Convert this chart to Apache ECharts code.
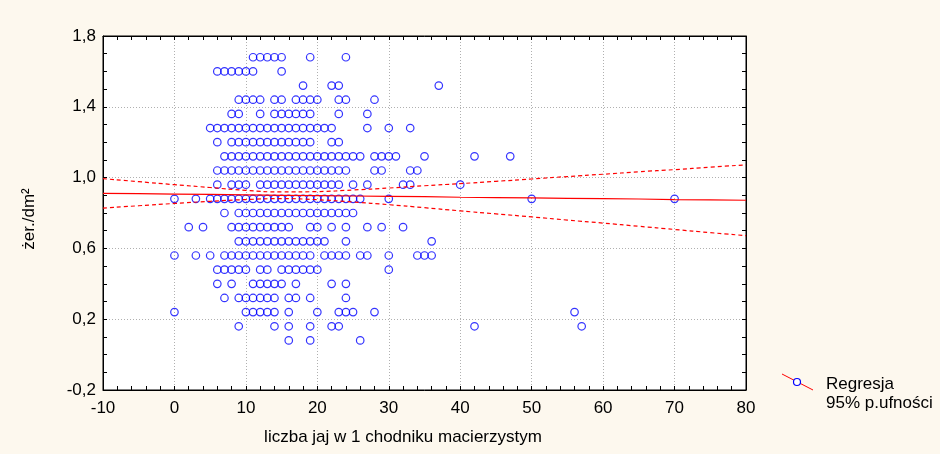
<!DOCTYPE html>
<html>
<head>
<meta charset="utf-8">
<script src="https://cdn.jsdelivr.net/npm/echarts@6/dist/echarts.min.js"></script>
<style>
html,body{margin:0;padding:0;background:#fdf8ee;}
#c{width:940px;height:454px;}
</style>
</head>
<body>
<div id="c"></div>
<script>
// ---- data (x = liczba jaj, grouped by y level żer./dm²) ----
const r168 = [11,12,13,14,15,19,24];
const r160 = [6,7,8,9,10,11,15];
const r152 = [18,22,23,37];
const r144 = [9,10,11,12,14,15,17,18,19,20,23,24,28];
const r136 = [8,9,12,14,15,16,17,18,19,23,27];
const r128 = [5,6,7,8,9,10,11,12,13,14,15,16,17,18,19,20,21,22,27,30,33];
const r120 = [6,8,9,10,11,12,13,14,15,16,17,18,19,22,23];
const r112 = [7,8,9,10,11,12,13,14,15,16,17,18,19,20,21,22,23,24,25,26,28,29,30,31,35,42,47];
const r104 = [6,7,8,9,10,11,12,13,14,15,16,17,18,19,20,21,22,23,24,28,29,33,34];
const r096 = [6,8,9,10,12,13,14,15,16,17,18,19,20,21,22,23,25,27,32,33,40];
const r088 = [0,3,5,6,7,8,9,10,11,12,13,14,15,16,17,18,19,20,21,22,23,24,25,26,30,50,70];
const r080 = [7,9,10,11,12,13,14,15,16,17,18,19,20,21,22,23,24,25];
const r072 = [2,4,8,9,10,11,12,13,14,15,16,19,20,22,24,27,29,32];
const r064 = [9,10,11,12,13,14,15,16,17,18,19,20,21,24,36];
const r056 = [0,3,5,7,8,9,10,11,12,13,14,15,16,17,18,19,21,22,23,24,26,27,30,34,35,36];
const r048 = [6,7,8,9,10,12,13,15,16,17,18,19,20,30];
const r040 = [6,8,11,12,13,14,15,17,22,24];
const r032 = [7,9,10,11,12,13,14,16,17,19,24];
const r024 = [0,10,11,12,13,14,16,20,23,24,25,28,56];
const r016 = [9,14,16,19,22,23,42,57];
const r008 = [16,19,26];
const yLevels = [1.68,1.60,1.52,1.44,1.36,1.28,1.20,1.12,1.04,0.96,0.88,0.80,0.72,0.64,0.56,0.48,0.40,0.32,0.24,0.16,0.08];
const rowXs = [r168,r160,r152,r144,r136,r128,r120,r112,r104,r096,r088,r080,r072,r064,r056,r048,r040,r032,r024,r016,r008];

// regression line and 95% confidence band
const lineX  = [-10,-5,0,5,10,15,20,25,30,35,40,45,50,55,60,65,70,75,80];
const regY   = [0.911,0.909,0.907,0.905,0.902,0.900,0.898,0.896,0.894,0.892,0.889,0.887,0.885,0.883,0.881,0.879,0.876,0.874,0.872];
const upperY = [0.994,0.977,0.960,0.944,0.928,0.919,0.921,0.930,0.941,0.954,0.966,0.979,0.992,1.006,1.019,1.033,1.045,1.059,1.072];
const lowerY = [0.828,0.841,0.854,0.866,0.876,0.881,0.875,0.862,0.847,0.830,0.812,0.795,0.778,0.760,0.743,0.725,0.707,0.689,0.672];

const xTitle = 'liczba jaj w 1 chodniku macierzystym';
const yTitle = 'żer./dm²';
const legendLines = ['Regresja', '95% p.ufności'];

// ---- build ----
const pts = [];
yLevels.forEach((y, i) => rowXs[i].forEach(x => pts.push([x, y])));
const toPairs = (xs, ys) => xs.map((x, i) => [x, ys[i]]);

const FONT = "'Liberation Sans', Arial, sans-serif";
const FS = 17;
const chart = echarts.init(document.getElementById('c'), null, {renderer: 'canvas'});

const tickCommon = {show: true, inside: true, length: 4, lineStyle: {color: '#000', width: 1}};
const minorCommon = {show: true, length: 4, lineStyle: {color: '#000', width: 1}};
const gridLine = {show: true, lineStyle: {color: '#b0b0b0', type: [1, 2], width: 1}};

chart.setOption({
  backgroundColor: '#fdf8ee',
  animation: false,
  grid: {left: 103, top: 36, width: 643, height: 354, show: true, backgroundColor: '#ffffff', borderColor: '#000', borderWidth: 1},
  xAxis: [{
    type: 'value', min: -10, max: 80, interval: 10,
    axisLine: {show: true, onZero: false, lineStyle: {color: '#000', width: 1}},
    axisTick: tickCommon,
    minorTick: Object.assign({splitNumber: 5}, minorCommon),
    axisLabel: {color: '#000', fontSize: FS, fontFamily: FONT, margin: 10},
    splitLine: gridLine
  }, {
    type: 'value', min: -10, max: 80, interval: 10, position: 'top',
    axisLine: {show: true, onZero: false, lineStyle: {color: '#000'}},
    axisTick: tickCommon,
    minorTick: Object.assign({splitNumber: 5}, minorCommon),
    axisLabel: {show: false}, splitLine: {show: false}
  }],
  yAxis: [{
    type: 'value', min: -0.2, max: 1.8, interval: 0.4,
    axisLine: {show: true, onZero: false, lineStyle: {color: '#000', width: 1}},
    axisTick: tickCommon,
    minorTick: Object.assign({splitNumber: 4}, minorCommon),
    axisLabel: {color: '#000', fontSize: FS, fontFamily: FONT, margin: 7,
      formatter: v => v.toFixed(1).replace('.', ',')},
    splitLine: gridLine
  }, {
    type: 'value', min: -0.2, max: 1.8, interval: 0.4, position: 'right',
    axisLine: {show: true, onZero: false, lineStyle: {color: '#000'}},
    axisTick: tickCommon,
    minorTick: Object.assign({splitNumber: 4}, minorCommon),
    axisLabel: {show: false}, splitLine: {show: false}
  }],
  series: [{
    type: 'scatter', data: pts, symbol: 'circle', symbolSize: 7.5,
    itemStyle: {color: 'rgba(255,255,255,0)', borderColor: '#0000ff', borderWidth: 1.2},
    z: 3
  }, {
    type: 'line', data: toPairs(lineX, regY), symbol: 'none', smooth: false,
    lineStyle: {color: '#ff0000', width: 1.2}, z: 4
  }, {
    type: 'line', data: toPairs(lineX, upperY), symbol: 'none', smooth: true,
    lineStyle: {color: '#ff0000', width: 1.2, type: [4, 3]}, z: 4
  }, {
    type: 'line', data: toPairs(lineX, lowerY), symbol: 'none', smooth: true,
    lineStyle: {color: '#ff0000', width: 1.2, type: [4, 3]}, z: 4
  }],
  graphic: [
    {type: 'text', style: {text: xTitle, x: 403, y: 437, font: FS + 'px ' + FONT, fill: '#000', textAlign: 'center', textVerticalAlign: 'middle'}},
    {type: 'text', x: 29, y: 219, rotation: Math.PI / 2, style: {text: yTitle, x: 0, y: 0, font: FS + 'px ' + FONT, fill: '#000', textAlign: 'center', textVerticalAlign: 'middle'}},
    {type: 'line', shape: {x1: 782, y1: 374, x2: 813, y2: 390}, style: {stroke: '#ff0000', lineWidth: 1}},
    {type: 'circle', shape: {cx: 797, cy: 382, r: 3.5}, style: {fill: '#fff', stroke: '#0000ff', lineWidth: 1.2}},
    {type: 'text', style: {text: legendLines[0], x: 826, y: 384, font: FS + 'px ' + FONT, fill: '#000', textVerticalAlign: 'middle'}},
    {type: 'text', style: {text: legendLines[1], x: 826, y: 403, font: FS + 'px ' + FONT, fill: '#000', textVerticalAlign: 'middle'}}
  ]
});
</script>
</body>
</html>
